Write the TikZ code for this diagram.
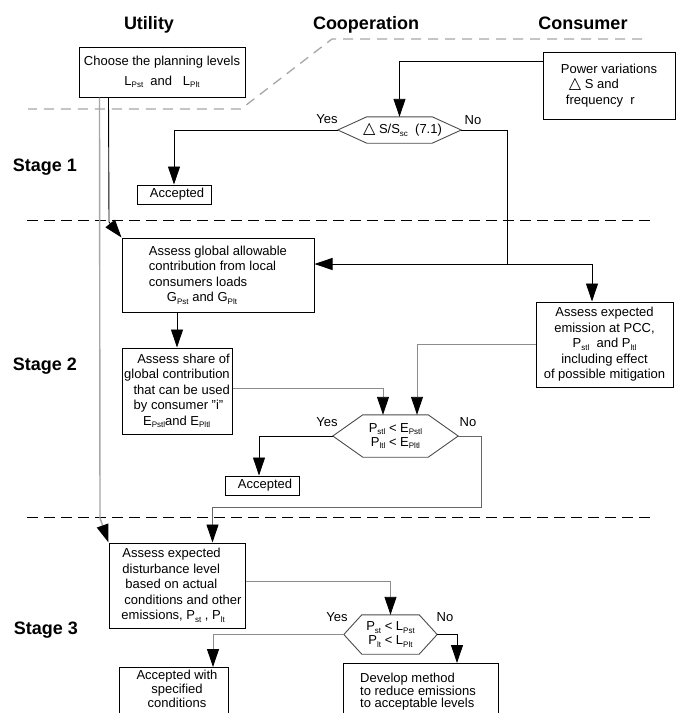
\documentclass[tikz,border=0pt]{standalone}
\usepackage{fontspec}
\setmainfont{Liberation Sans}
\newfontfamily\symfont{DejaVu Sans}
\usetikzlibrary{arrows.meta,calc}
\newcommand\sbs[1]{\raisebox{-2.5pt}{\fontsize{8}{8}\selectfont #1}}
\newcommand\tri{{\symfont\fontsize{16}{16}\selectfont △}}
\newcommand\drawhex[2]{\draw[hexline] (#1.west) -- ($(#1.north west)+(#2,0)$) -- ($(#1.north east)+(-#2,0)$) -- (#1.east) -- ($(#1.south east)+(-#2,0)$) -- ($(#1.south west)+(#2,0)$) -- cycle;}
\begin{document}
\begin{tikzpicture}[x=1pt,y=-1pt,
  title/.style={font=\fontsize{18}{20}\selectfont\bfseries, inner sep=0pt},
  box/.style={draw=black, line width=1pt, inner sep=2pt, font=\fontsize{13}{15.5}\selectfont},
  txt/.style={inner sep=0pt, font=\fontsize{13}{14}\selectfont},
  lbl/.style={inner sep=0pt, font=\fontsize{13}{14}\selectfont},
  hexnode/.style={inner sep=0pt, font=\fontsize{13}{14}\selectfont},
  hexline/.style={draw=black!70, line width=0.9pt},
  line/.style={draw=black, line width=0.9pt},
  arr/.style={draw=black, line width=0.9pt, -{Triangle[length=18pt,width=12pt]}},
  garr/.style={draw=black!45, line width=0.9pt, -{Triangle[length=18pt,width=12pt,color=black]}},
  gdash/.style={draw=black!35, line width=1.3pt, dash pattern=on 10pt off 7pt},
  bdash/.style={draw=black, line width=1pt, dash pattern=on 11pt off 6pt}]
\fill[white] (0,0) rectangle (680,713);
\useasboundingbox (0,0) rectangle (680,713);

% titles
\node[title,anchor=base] (tU) at (149,29.5) {Utility};
\node[title,anchor=base] (tC) at (366,29.5) {Cooperation};
\node[title,anchor=base] (tS) at (583,29.5) {Consumer};
\node[title,anchor=base] (s1) at (45,171.5) {Stage 1};
\node[title,anchor=base] (s2) at (45,370.5) {Stage 2};
\node[title,anchor=base] (s3) at (46,634.5) {Stage 3};

% separators
\draw[gdash] (642,39) -- (332,39) -- (241,109) -- (28,109);
\draw[bdash] (27,220) -- (650,220);
\draw[bdash] (27,517) -- (650,517);

% boxes
\node[box, minimum width=166pt, minimum height=50pt, align=center] (choose) at (162,72)
  {Choose the planning levels\\[4pt] L\sbs{Pst}\ \ and\ \ \ L\sbs{Plt}};
\node[box, minimum width=132pt, minimum height=67pt, align=left] (power) at (609,85.5)
  {Power variations\\\hspace{8pt}\tri\ S and\\\hspace{5pt}frequency\ \ r};
\node[hexnode, minimum width=123pt, minimum height=26pt] (d1) at (399.5,130)
  {\hspace{6pt}\tri\ S/S\sbs{sc}\ \ (7.1)};
\drawhex{d1}{29}
\node[lbl] (y1) at (327,119) {Yes};
\node[lbl] (n1) at (473,120) {No};
\node[box, minimum width=74pt, minimum height=19pt, inner sep=0pt] (acc1) at (174,194.5) {\hspace{6pt}Accepted};

\node[box, minimum width=192pt, minimum height=74pt, align=left] (global) at (218,275)
  {Assess global allowable\\contribution from local\\consumers loads\\\hspace{18pt}G\sbs{Pst} and G\sbs{Plt}};
\node[box, minimum width=110pt, minimum height=86pt, align=right] (share) at (177,391)
  {Assess share of\\global contribution\\that can be used\\by consumer "i"\hphantom{x}\\E\sbs{Pstl}and E\sbs{Pltl}\hphantom{xxx}};
\node[box, minimum width=137pt, minimum height=85pt, align=center] (expected) at (604.5,344.5)
  {Assess expected\\emission at PCC,\\P\sbs{stl}\ \ and P\sbs{ltl}\\including effect\\of possible mitigation};
\node[hexnode, minimum width=125pt, minimum height=42pt, align=center] (d2) at (395.5,436)
  {P\sbs{stl} < E\sbs{Pstl}\\P\sbs{ltl} < E\sbs{Pltl}};
\drawhex{d2}{30}
\node[lbl] (y2) at (327,422) {Yes};
\node[lbl] (n2) at (468,422) {No};
\node[box, minimum width=74pt, minimum height=19pt, inner sep=0pt] (acc2) at (262,485.5) {\hspace{6pt}Accepted};

\node[box, minimum width=136pt, minimum height=85pt, align=left] (disturb) at (177,585.5)
  {\hspace{10pt}Assess expected\\\hspace{10pt}disturbance level\\\hspace{13pt}based on actual\\\hspace{12pt}conditions and other\\\hspace{9pt}emissions, P\sbs{st} , P\sbs{lt}};
\node[hexnode, minimum width=93pt, minimum height=39pt, align=center] (d3) at (390.5,634.5)
  {P\sbs{st} < L\sbs{Pst}\\P\sbs{lt} < L\sbs{Plt}};
\drawhex{d3}{18}
\node[lbl] (y3) at (337,617) {Yes};
\node[lbl] (n3) at (445,617) {No};
\node[box, minimum width=109pt, minimum height=70pt, anchor=north] (accw) at (173.5,667) {};
\node[txt, align=center] (accwt) at (177,689) {Accepted with\\specified\\conditions};
\node[box, minimum width=155pt, minimum height=70pt, anchor=north] (develop) at (420.5,663) {};
\node[txt, align=left, anchor=west, font=\fontsize{13}{12}\selectfont] (developt) at (360,692) {Develop method\\to reduce emissions\\to acceptable levels};

% connectors
\coordinate (c1) at (109,222);
\coordinate (c2) at (100,518);
\coordinate (j1) at (507,264);
\coordinate (j2) at (481,507);
\draw[arr] ($(choose.south west)+(30,0)$) -- (c1) -- (global.north west);
\draw[draw=black!35, line width=1.4pt, -{Triangle[length=18pt,width=12pt,color=black]}]
  ($(choose.south west)+(21,0)$) -- (c2) -- (disturb.north west);
\draw[arr] ($(power.north west)+(0,10)$) -| (d1.north);
\draw[arr] (d1.west) -| (acc1.north);
\draw[line] (d1.east) -| (j1);
\draw[arr] (j1) -- (global.east |- j1);
\draw[arr] (j1) -| ($(expected.north)+(-12.5,0)$);
\draw[arr] (share.north |- global.south) -- (share.north);
\draw[garr] ($(share.east)+(0,-3)$) -| ($(d2.north)+(-12.5,0)$);
\draw[garr] (expected.west) -| ($(d2.north)+(21.5,0)$);
\draw[arr] (d2.west) -| ($(acc2.north)+(-3,0)$);
\draw[arr, draw=black!60, -{Triangle[length=18pt,width=12pt,color=black]}] (d2.east) -| (j2) -| ($(disturb.north east)+(-33,0)$);
\draw[garr] ($(disturb.east)+(0,-4.5)$) -| (d3.north);
\draw[garr] (d3.west) -| ($(accw.north)+(39.5,0)$);
\draw[arr] (d3.east) -| ($(develop.north)+(36.5,0)$);
\end{tikzpicture}
\end{document}
